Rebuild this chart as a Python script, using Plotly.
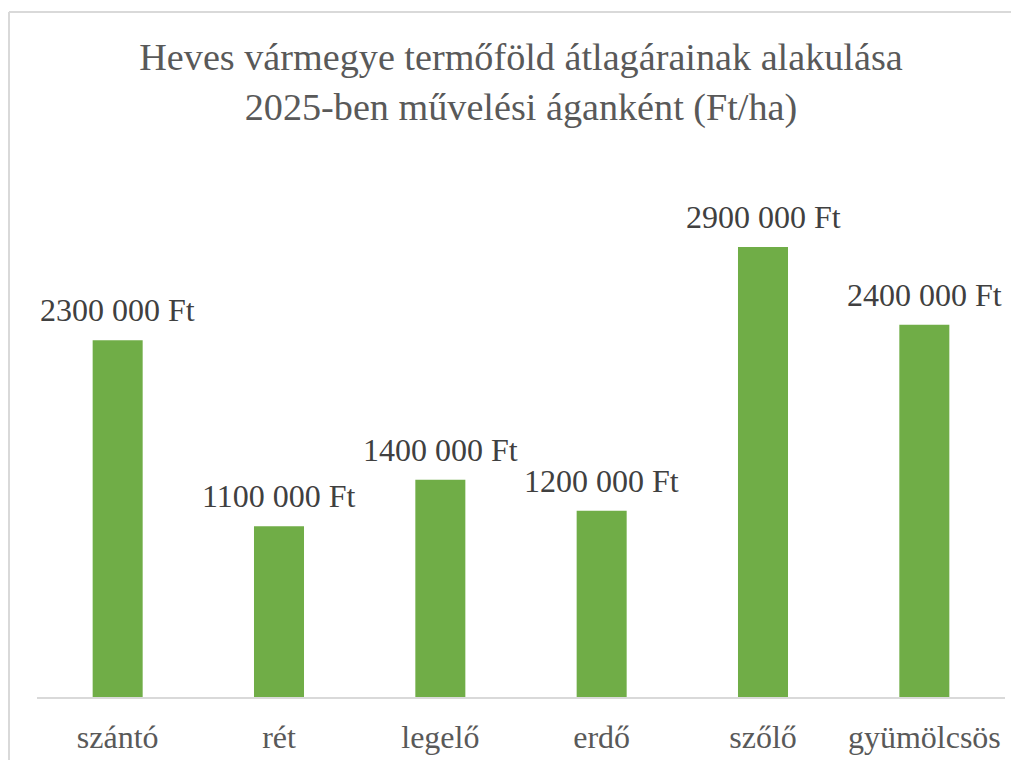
import plotly.graph_objects as go

categories = ["szántó", "rét", "legelő", "erdő", "szőlő", "gyümölcsös"]
values = [2300000, 1100000, 1400000, 1200000, 2900000, 2400000]
value_labels = ["2300 000 Ft", "1100 000 Ft", "1400 000 Ft", "1200 000 Ft", "2900 000 Ft", "2400 000 Ft"]
title_text = "Heves vármegye termőföld átlagárainak alakulása<br>2025-ben művelési áganként (Ft/ha)"

OFF = 8  # page body margin
W, H = 1011, 752
L, R, T, B = 37 - OFF, 14, 154 - OFF, 63
pw, ph = W - L - R, H - T - B

def px_x(x):  # page px -> paper
    return (x - OFF - L) / pw

def px_y(y):
    return (H - B - (y - OFF)) / ph

fig = go.Figure(go.Bar(
    x=categories, y=values,
    marker=dict(color="#70AD47", line=dict(width=0)),
    cliponaxis=False,
    hoverinfo="skip",
))

for cat, val, lab in zip(categories, values, value_labels):
    fig.add_annotation(x=cat, y=val, text=lab, showarrow=False,
                       xanchor="center", yanchor="bottom", yshift=10,
                       font=dict(family="Liberation Serif", size=32, color="#404040"))

fig.update_layout(
    width=W, height=H,
    margin=dict(l=L, r=R, t=T, b=B, autoexpand=False),
    paper_bgcolor="white", plot_bgcolor="white",
    bargap=0.69,
    showlegend=False,
    title=dict(text=title_text, x=(521 - OFF) / W, xanchor="center", xref="container",
               y=1 - 62 / H, yanchor="top", yref="container",
               font=dict(family="Liberation Serif", size=38.2, color="#595959")),
    xaxis=dict(showline=True, linecolor="#d9d9d9", linewidth=1.5, showgrid=False,
               ticks="", ticklabelstandoff=11, automargin=False,
               tickfont=dict(family="Liberation Serif", size=32, color="#595959"),
               fixedrange=True),
    yaxis=dict(range=[0, 3500000], visible=False, showgrid=False, fixedrange=True,
               automargin=False),
    shapes=[
        dict(type="line", xref="paper", yref="paper", x0=px_x(9), x1=px_x(9), y0=px_y(12), y1=px_y(H + 20),
             line=dict(color="#d9d9d9", width=2)),
        dict(type="line", xref="paper", yref="paper", x0=px_x(9), x1=px_x(W + 20), y0=px_y(12), y1=px_y(12),
             line=dict(color="#d9d9d9", width=2)),
    ],
)

fig.write_html("out.html")
